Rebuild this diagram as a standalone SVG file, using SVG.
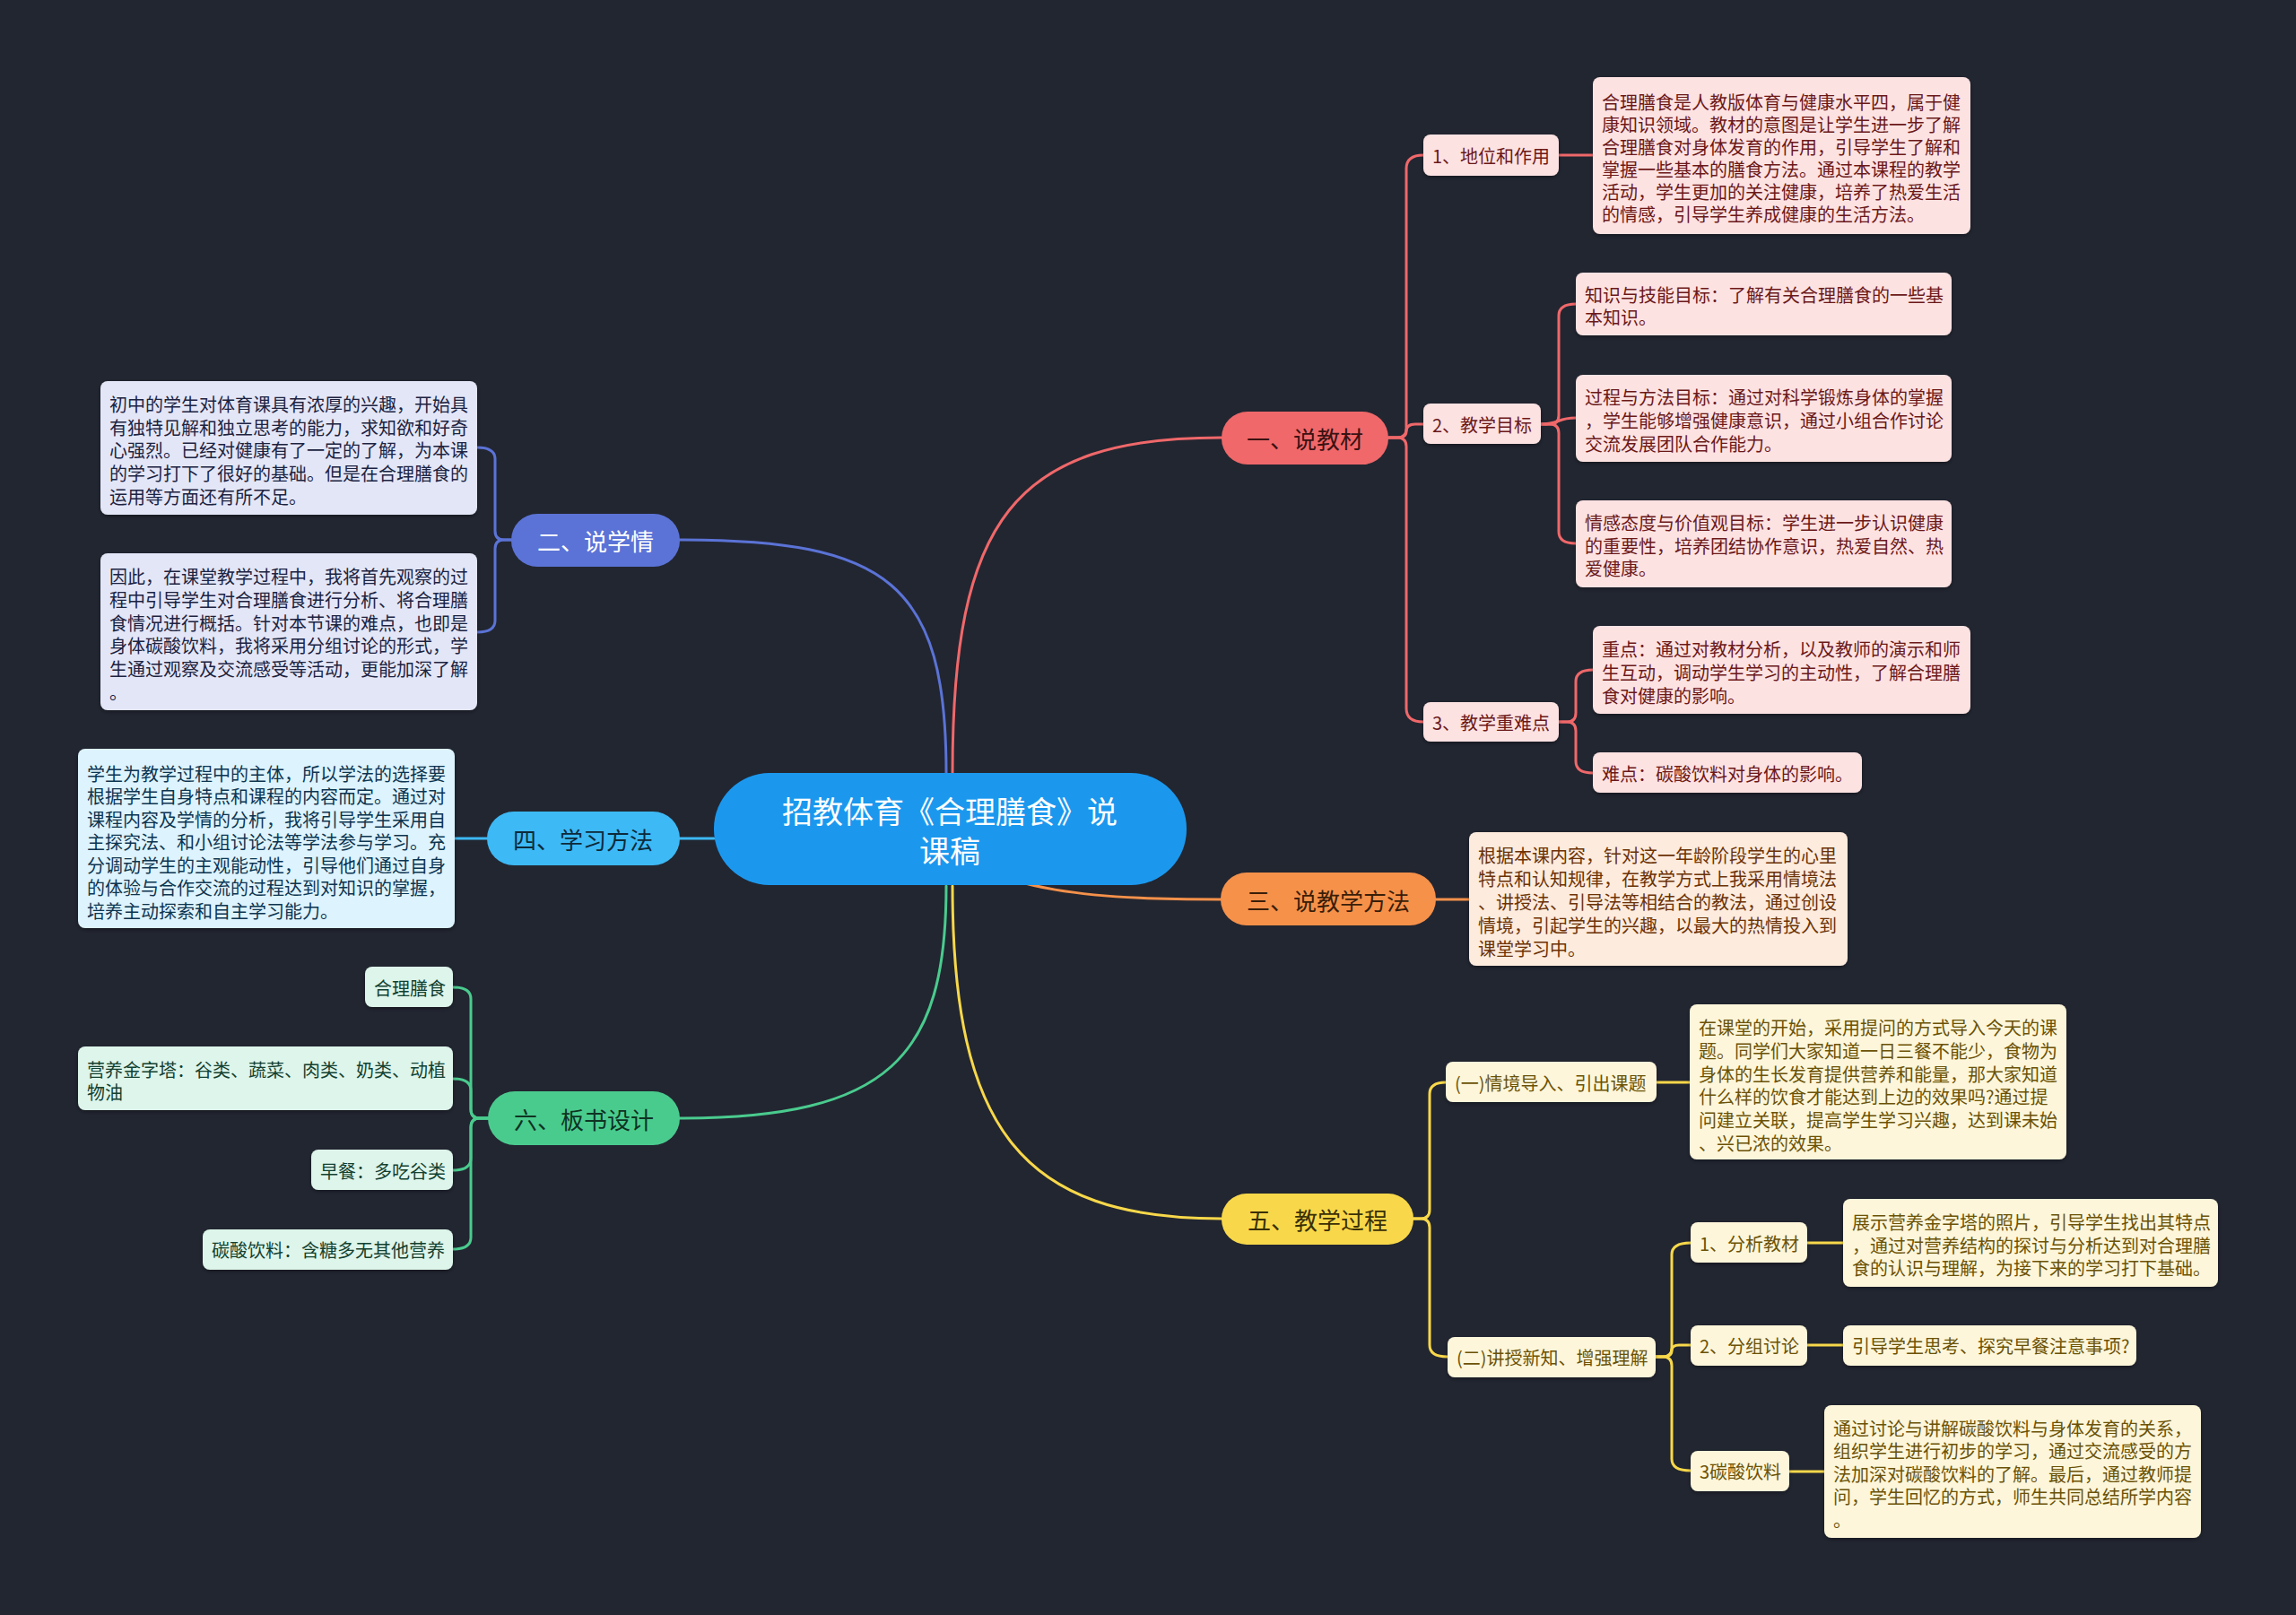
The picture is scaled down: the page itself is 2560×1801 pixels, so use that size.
<svg xmlns="http://www.w3.org/2000/svg" width="2560" height="1801" viewBox="0 0 2560 1801">
<defs>
<filter id="sh" x="-10%" y="-10%" width="120%" height="130%"><feDropShadow dx="0" dy="2" stdDeviation="2" flood-color="#000" flood-opacity="0.35"/></filter>
<style>
text{font-family:"Noto Sans CJK SC","Noto Sans",sans-serif;dominant-baseline:central}
.t20{font-size:20px}
.t26{font-size:26px;text-anchor:middle}
.mid{text-anchor:middle}
.c{fill:none;stroke-width:3;stroke-linecap:round}
.cr{stroke:#F0686A}.cb{stroke:#5B73D6}.co{stroke:#F6914A}.cl{stroke:#3DB9F5}.cy{stroke:#F8D84A}.cg{stroke:#4ACB8E}
.nr{fill:#F0686A}.nb{fill:#5B73D6}.no{fill:#F6914A}.nl{fill:#3DB9F5}.ny{fill:#F8D84A}.ng{fill:#4ACB8E}
.br{fill:#FDE2E2}.bb{fill:#E3E6F7}.bo{fill:#FDEBDD}.bl{fill:#DDF3FD}.by{fill:#FDF6DA}.bg{fill:#DDF5EA}
.xr{fill:#6B1818}.xb{fill:#1C2340}.xo{fill:#6B3206}.xl{fill:#0D3550}.xy{fill:#6B5206}.xg{fill:#134030}
.box{filter:url(#sh)}
</style>
</defs>
<rect width="2560" height="1801" fill="#222631"/>

<g id="connectors">
<path class="c co" d="M1059 925 C1080 1000 1250 1003 1362 1003"/>
<path class="c cr" d="M1062 862 C1062 580 1130 488 1362 488"/>
<path class="c cb" d="M1055 862 C1055 650 990 602 758 602"/>
<path class="c cl" d="M796 935 H758"/>
<path class="c cy" d="M1062 988 C1062 1260 1140 1359 1362 1359"/>
<path class="c cg" d="M1055 988 C1055 1180 990 1247 758 1247"/>

<path class="c cr" d="M1548 488 H1558 Q1568 488 1568 478 V188 Q1568 173 1587 173"/>
<path class="c cr" d="M1548 488 H1558 Q1568 488 1568 481 Q1568 473 1578 473 H1587"/>
<path class="c cr" d="M1548 488 H1558 Q1568 488 1568 498 V790 Q1568 805 1587 805"/>
<path class="c cr" d="M1738 173 H1776"/>
<path class="c cr" d="M1718 473 H1728 Q1738 473 1738 463 V352 Q1738 339 1757 339"/>
<path class="c cr" d="M1718 473 C1740 473 1735 466 1757 466"/>
<path class="c cr" d="M1718 473 H1728 Q1738 473 1738 483 V593 Q1738 606 1757 606"/>
<path class="c cr" d="M1738 805 H1747 Q1757 805 1757 795 V760 Q1757 747 1776 747"/>
<path class="c cr" d="M1738 805 H1747 Q1757 805 1757 815 V849 Q1757 862 1776 862"/>

<path class="c cb" d="M570 602 H562 Q552 602 552 592 V512 Q552 499 532 499"/>
<path class="c cb" d="M570 602 H562 Q552 602 552 612 V692 Q552 705 532 705"/>

<path class="c cl" d="M543 935 H507"/>
<path class="c co" d="M1601 1003 H1638"/>

<path class="c cg" d="M544 1247 H535 Q525 1247 525 1237 V1114 Q525 1101 505 1101"/>
<path class="c cg" d="M544 1247 H535 Q525 1247 525 1237 V1216 Q525 1203 505 1203"/>
<path class="c cg" d="M544 1247 H535 Q525 1247 525 1257 V1292 Q525 1305 505 1305"/>
<path class="c cg" d="M544 1247 H535 Q525 1247 525 1257 V1380 Q525 1393 505 1393"/>

<path class="c cy" d="M1576 1359 H1584 Q1594 1359 1594 1349 V1220 Q1594 1207 1612 1207"/>
<path class="c cy" d="M1576 1359 H1584 Q1594 1359 1594 1369 V1500 Q1594 1513 1614 1513"/>
<path class="c cy" d="M1847 1207 H1884"/>
<path class="c cy" d="M1846 1513 H1854 Q1864 1513 1864 1503 V1399 Q1864 1386 1885 1386"/>
<path class="c cy" d="M1846 1513 H1854 Q1864 1513 1864 1506 Q1864 1500 1872 1500 H1885"/>
<path class="c cy" d="M1846 1513 H1854 Q1864 1513 1864 1523 V1627 Q1864 1640 1885 1640"/>
<path class="c cy" d="M2015 1386 H2055"/>
<path class="c cy" d="M2015 1500 H2055"/>
<path class="c cy" d="M1995 1641 H2034"/>
</g>

<g id="root">
<rect x="796" y="862" width="527" height="125" rx="62" fill="#1B98EE"/>
<text class="mid" x="1059" y="903" font-size="34" fill="#FFFFFF">招教体育《合理膳食》说</text>
<text class="mid" x="1059" y="947" font-size="34" fill="#FFFFFF">课稿</text>
</g>

<!-- Branch 1 -->
<g id="b1">
<rect class="nr" x="1362" y="459" width="186" height="59" rx="29"/>
<text class="t26" x="1455" y="488" fill="#3A1212">一、说教材</text>
</g>
<g id="b1-1">
<rect class="br box" x="1587" y="150" width="151" height="46" rx="8"/>
<text class="t20 xr" x="1597" y="173">1、地位和作用</text>
</g>
<g id="b1-1-t">
<rect class="br box" x="1776" y="86" width="421" height="175" rx="8"/>
<text class="t20 xr" x="1786"><tspan x="1786" y="113">合理膳食是人教版体育与健康水平四，属于健</tspan><tspan x="1786" y="138">康知识领域。教材的意图是让学生进一步了解</tspan><tspan x="1786" y="163">合理膳食对身体发育的作用，引导学生了解和</tspan><tspan x="1786" y="188">掌握一些基本的膳食方法。通过本课程的教学</tspan><tspan x="1786" y="213">活动，学生更加的关注健康，培养了热爱生活</tspan><tspan x="1786" y="238">的情感，引导学生养成健康的生活方法。</tspan></text>
</g>
<g id="b1-2">
<rect class="br box" x="1587" y="450" width="131" height="45" rx="8"/>
<text class="t20 xr" x="1597" y="473">2、教学目标</text>
</g>
<g id="b1-2-a">
<rect class="br box" x="1757" y="304" width="419" height="70" rx="8"/>
<text class="t20 xr"><tspan x="1767" y="328">知识与技能目标：了解有关合理膳食的一些基</tspan><tspan x="1767" y="353">本知识。</tspan></text>
</g>
<g id="b1-2-b">
<rect class="br box" x="1757" y="418" width="419" height="97" rx="8"/>
<text class="t20 xr"><tspan x="1767" y="442">过程与方法目标：通过对科学锻炼身体的掌握</tspan><tspan x="1767" y="468">，学生能够增强健康意识，通过小组合作讨论</tspan><tspan x="1767" y="494">交流发展团队合作能力。</tspan></text>
</g>
<g id="b1-2-c">
<rect class="br box" x="1757" y="558" width="419" height="97" rx="8"/>
<text class="t20 xr"><tspan x="1767" y="582">情感态度与价值观目标：学生进一步认识健康</tspan><tspan x="1767" y="608">的重要性，培养团结协作意识，热爱自然、热</tspan><tspan x="1767" y="633">爱健康。</tspan></text>
</g>
<g id="b1-3">
<rect class="br box" x="1587" y="783" width="151" height="44" rx="8"/>
<text class="t20 xr" x="1597" y="805">3、教学重难点</text>
</g>
<g id="b1-3-a">
<rect class="br box" x="1776" y="698" width="421" height="98" rx="8"/>
<text class="t20 xr"><tspan x="1786" y="723">重点：通过对教材分析，以及教师的演示和师</tspan><tspan x="1786" y="749">生互动，调动学生学习的主动性，了解合理膳</tspan><tspan x="1786" y="775">食对健康的影响。</tspan></text>
</g>
<g id="b1-3-b">
<rect class="br box" x="1776" y="839" width="300" height="45" rx="8"/>
<text class="t20 xr" x="1786" y="862">难点：碳酸饮料对身体的影响。</text>
</g>

<!-- Branch 2 -->
<g id="b2">
<rect class="nb" x="570" y="573" width="188" height="59" rx="29"/>
<text class="t26" x="664" y="602" fill="#FFFFFF">二、说学情</text>
</g>
<g id="b2-a">
<rect class="bb box" x="112" y="425" width="420" height="149" rx="8"/>
<text class="t20 xb"><tspan x="122" y="450">初中的学生对体育课具有浓厚的兴趣，开始具</tspan><tspan x="122" y="476">有独特见解和独立思考的能力，求知欲和好奇</tspan><tspan x="122" y="501">心强烈。已经对健康有了一定的了解，为本课</tspan><tspan x="122" y="527">的学习打下了很好的基础。但是在合理膳食的</tspan><tspan x="122" y="553">运用等方面还有所不足。</tspan></text>
</g>
<g id="b2-b">
<rect class="bb box" x="112" y="617" width="420" height="175" rx="8"/>
<text class="t20 xb"><tspan x="122" y="642">因此，在课堂教学过程中，我将首先观察的过</tspan><tspan x="122" y="668">程中引导学生对合理膳食进行分析、将合理膳</tspan><tspan x="122" y="694">食情况进行概括。针对本节课的难点，也即是</tspan><tspan x="122" y="719">身体碳酸饮料，我将采用分组讨论的形式，学</tspan><tspan x="122" y="745">生通过观察及交流感受等活动，更能加深了解</tspan><tspan x="122" y="771">。</tspan></text>
</g>

<!-- Branch 3 -->
<g id="b3">
<rect class="no" x="1361" y="973" width="240" height="59" rx="29"/>
<text class="t26" x="1481" y="1003" fill="#3A1E08">三、说教学方法</text>
</g>
<g id="b3-a">
<rect class="bo box" x="1638" y="928" width="422" height="149" rx="8"/>
<text class="t20 xo"><tspan x="1648" y="953">根据本课内容，针对这一年龄阶段学生的心里</tspan><tspan x="1648" y="979">特点和认知规律，在教学方式上我采用情境法</tspan><tspan x="1648" y="1005">、讲授法、引导法等相结合的教法，通过创设</tspan><tspan x="1648" y="1031">情境，引起学生的兴趣，以最大的热情投入到</tspan><tspan x="1648" y="1057">课堂学习中。</tspan></text>
</g>

<!-- Branch 4 -->
<g id="b4">
<rect class="nl" x="543" y="905" width="215" height="60" rx="30"/>
<text class="t26" x="650" y="935" fill="#0D2A3A">四、学习方法</text>
</g>
<g id="b4-a">
<rect class="bl box" x="87" y="835" width="420" height="200" rx="8"/>
<text class="t20 xl"><tspan x="97" y="862">学生为教学过程中的主体，所以学法的选择要</tspan><tspan x="97" y="887">根据学生自身特点和课程的内容而定。通过对</tspan><tspan x="97" y="913">课程内容及学情的分析，我将引导学生采用自</tspan><tspan x="97" y="938">主探究法、和小组讨论法等学法参与学习。充</tspan><tspan x="97" y="964">分调动学生的主观能动性，引导他们通过自身</tspan><tspan x="97" y="989">的体验与合作交流的过程达到对知识的掌握，</tspan><tspan x="97" y="1015">培养主动探索和自主学习能力。</tspan></text>
</g>

<!-- Branch 5 -->
<g id="b5">
<rect class="ny" x="1362" y="1331" width="214" height="57" rx="28"/>
<text class="t26" x="1469" y="1359" fill="#3A2F05">五、教学过程</text>
</g>
<g id="b5-1">
<rect class="by box" x="1612" y="1184" width="235" height="45" rx="8"/>
<text class="t20 xy" x="1622" y="1207">(一)情境导入、引出课题</text>
</g>
<g id="b5-1-t">
<rect class="by box" x="1884" y="1120" width="420" height="173" rx="8"/>
<text class="t20 xy"><tspan x="1894" y="1145">在课堂的开始，采用提问的方式导入今天的课</tspan><tspan x="1894" y="1171">题。同学们大家知道一日三餐不能少，食物为</tspan><tspan x="1894" y="1197">身体的生长发育提供营养和能量，那大家知道</tspan><tspan x="1894" y="1222">什么样的饮食才能达到上边的效果吗?通过提</tspan><tspan x="1894" y="1248">问建立关联，提高学生学习兴趣，达到课未始</tspan><tspan x="1894" y="1274">、兴已浓的效果。</tspan></text>
</g>
<g id="b5-2">
<rect class="by box" x="1614" y="1491" width="232" height="45" rx="8"/>
<text class="t20 xy" x="1624" y="1513">(二)讲授新知、增强理解</text>
</g>
<g id="b5-2-1">
<rect class="by box" x="1885" y="1363" width="130" height="45" rx="8"/>
<text class="t20 xy" x="1895" y="1386">1、分析教材</text>
</g>
<g id="b5-2-1-t">
<rect class="by box" x="2055" y="1337" width="418" height="98" rx="8"/>
<text class="t20 xy"><tspan x="2065" y="1362">展示营养金字塔的照片，引导学生找出其特点</tspan><tspan x="2065" y="1388">，通过对营养结构的探讨与分析达到对合理膳</tspan><tspan x="2065" y="1413">食的认识与理解，为接下来的学习打下基础。</tspan></text>
</g>
<g id="b5-2-2">
<rect class="by box" x="1885" y="1478" width="130" height="45" rx="8"/>
<text class="t20 xy" x="1895" y="1500">2、分组讨论</text>
</g>
<g id="b5-2-2-t">
<rect class="by box" x="2055" y="1478" width="327" height="45" rx="8"/>
<text class="t20 xy" x="2065" y="1500">引导学生思考、探究早餐注意事项?</text>
</g>
<g id="b5-2-3">
<rect class="by box" x="1885" y="1618" width="110" height="45" rx="8"/>
<text class="t20 xy" x="1895" y="1640">3碳酸饮料</text>
</g>
<g id="b5-2-3-t">
<rect class="by box" x="2034" y="1567" width="420" height="148" rx="8"/>
<text class="t20 xy"><tspan x="2044" y="1592">通过讨论与讲解碳酸饮料与身体发育的关系，</tspan><tspan x="2044" y="1617">组织学生进行初步的学习，通过交流感受的方</tspan><tspan x="2044" y="1643">法加深对碳酸饮料的了解。最后，通过教师提</tspan><tspan x="2044" y="1668">问，学生回忆的方式，师生共同总结所学内容</tspan><tspan x="2044" y="1694">。</tspan></text>
</g>

<!-- Branch 6 -->
<g id="b6">
<rect class="ng" x="544" y="1217" width="214" height="60" rx="30"/>
<text class="t26" x="651" y="1247" fill="#0F3322">六、板书设计</text>
</g>
<g id="b6-a">
<rect class="bg box" x="407" y="1078" width="98" height="45" rx="8"/>
<text class="t20 xg" x="417" y="1101">合理膳食</text>
</g>
<g id="b6-b">
<rect class="bg box" x="87" y="1167" width="418" height="71" rx="8"/>
<text class="t20 xg"><tspan x="97" y="1192">营养金字塔：谷类、蔬菜、肉类、奶类、动植</tspan><tspan x="97" y="1217">物油</tspan></text>
</g>
<g id="b6-c">
<rect class="bg box" x="347" y="1282" width="158" height="45" rx="8"/>
<text class="t20 xg" x="357" y="1305">早餐：多吃谷类</text>
</g>
<g id="b6-d">
<rect class="bg box" x="226" y="1371" width="279" height="45" rx="8"/>
<text class="t20 xg" x="236" y="1393">碳酸饮料：含糖多无其他营养</text>
</g>
</svg>
